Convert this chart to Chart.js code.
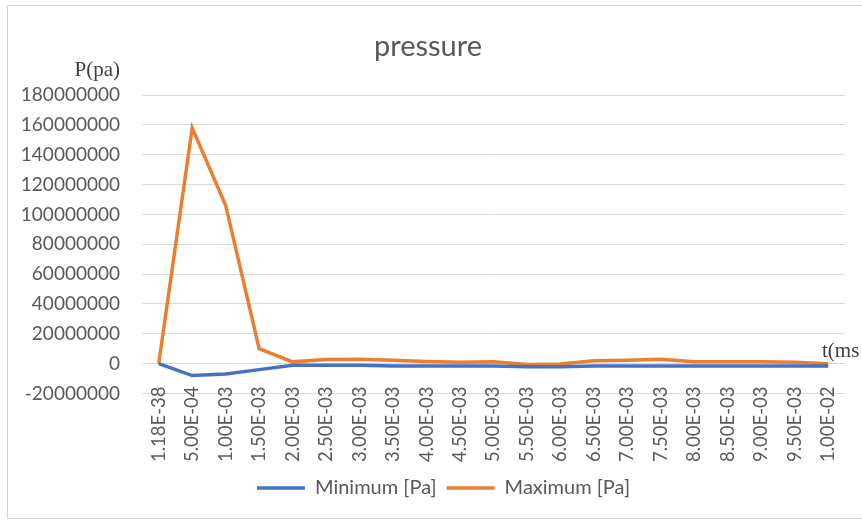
<!DOCTYPE html>
<html>
<head>
<meta charset="utf-8">
<script src="https://cdn.jsdelivr.net/npm/chart.js@4.4.1/dist/chart.umd.min.js"></script>
<style>
  html, body { margin: 0; padding: 0; background: #ffffff; }
  #wrap { position: relative; width: 862px; height: 522px; overflow: hidden; background: #ffffff; }
  #frame { position: absolute; left: 7px; top: 5px; width: 880px; height: 512px; border: 1px solid #d4d4d4; pointer-events: none; }
  canvas { position: absolute; left: 0; top: 0; }
</style>
</head>
<body>
<div id="wrap">
  <canvas id="chart" width="862" height="522"></canvas>
  <div id="frame"></div>
</div>
<script>
// Time steps (category labels on the horizontal axis)
const timeLabels = [
  '1.18E-38', '5.00E-04', '1.00E-03', '1.50E-03', '2.00E-03', '2.50E-03', '3.00E-03',
  '3.50E-03', '4.00E-03', '4.50E-03', '5.00E-03', '5.50E-03', '6.00E-03', '6.50E-03',
  '7.00E-03', '7.50E-03', '8.00E-03', '8.50E-03', '9.00E-03', '9.50E-03', '1.00E-02'
];

// Minimum pressure per time step [Pa]
const minimumPa = [
  0, -8000000, -7000000, -4000000, -1000000, -1000000, -1000000,
  -1500000, -1500000, -1500000, -1500000, -2000000, -2000000, -1500000,
  -1500000, -1500000, -1500000, -1500000, -1500000, -1500000, -1500000
];

// Maximum pressure per time step [Pa]
const maximumPa = [
  0, 158000000, 106000000, 10000000, 1200000, 2800000, 3000000,
  2300000, 1500000, 1000000, 1200000, -500000, -300000, 1900000,
  2300000, 3000000, 1200000, 1200000, 1200000, 1000000, 0
];

// Vertical axis ticks
const yMin = -20000000;
const yMax = 180000000;
const yStep = 20000000;

const seriesNames = ['Minimum [Pa]', 'Maximum [Pa]'];
const seriesColors = ['#4472C4', '#ED7D31'];

const textGrey = '#595959';
const sansFamily = 'Lato, "Open Sans", sans-serif';
const serifFamily = '"Liberation Serif", "DejaVu Serif", serif';

// Tick labels are allowed to spill past their own axis box
// (the category labels hang up into the plot, just under the zero line).
const unclippedLabels = {
  id: 'unclippedLabels',
  beforeDraw(chart) {
    Object.values(chart.scales).forEach((s) => { s._computeLabelArea = () => undefined; });
  }
};

// Chart heading plus the two hand-placed axis captions
const captions = {
  id: 'captions',
  afterDraw(chart) {
    const { ctx, chartArea, scales } = chart;
    ctx.save();
    ctx.fillStyle = textGrey;
    ctx.font = '29px ' + sansFamily;
    ctx.textAlign = 'center';
    ctx.textBaseline = 'middle';
    ctx.fillText('pressure', 428, 47);

    ctx.fillStyle = '#404040';
    ctx.font = '21px ' + serifFamily;
    ctx.textAlign = 'right';
    ctx.fillText('P(pa)', chartArea.left - 22, chartArea.top - 25);

    ctx.textAlign = 'left';
    ctx.fillText('t(ms', chartArea.right - 23, scales.y.getPixelForValue(0) - 12);
    ctx.restore();
  }
};

new Chart(document.getElementById('chart'), {
  type: 'line',
  data: {
    labels: timeLabels,
    datasets: [
      {
        label: seriesNames[0],
        data: minimumPa,
        borderColor: seriesColors[0],
        backgroundColor: seriesColors[0],
        borderWidth: 3.5,
        pointRadius: 0,
        tension: 0
      },
      {
        label: seriesNames[1],
        data: maximumPa,
        borderColor: seriesColors[1],
        backgroundColor: seriesColors[1],
        borderWidth: 3.5,
        pointRadius: 0,
        tension: 0
      }
    ]
  },
  options: {
    responsive: false,
    animation: false,
    layout: { padding: { top: 95, left: 42, right: 17, bottom: 14 } },
    scales: {
      x: {
        type: 'category',
        offset: true,
        grid: { display: false },
        border: { display: false },
        ticks: {
          autoSkip: false,
          minRotation: 90,
          maxRotation: 90,
          padding: -15,
          color: textGrey,
          font: { family: sansFamily, size: 18.5 }
        },
        afterFit(scale) { scale.height = 74.5; }
      },
      y: {
        min: yMin,
        max: yMax,
        grid: { color: '#d9d9d9', lineWidth: 1, drawTicks: false },
        border: { display: false },
        ticks: {
          stepSize: yStep,
          padding: 22,
          color: textGrey,
          font: { family: sansFamily, size: 19 },
          callback: (v) => String(v)
        },
        afterFit(scale) { scale.width = 100; }
      }
    },
    plugins: {
      title: { display: false },
      tooltip: { enabled: false },
      legend: {
        position: 'bottom',
        labels: {
          usePointStyle: true,
          pointStyle: 'line',
          pointStyleWidth: 48,
          padding: 10,
          color: textGrey,
          font: { family: sansFamily, size: 20 }
        }
      }
    }
  },
  plugins: [unclippedLabels, captions]
});
</script>
</body>
</html>
